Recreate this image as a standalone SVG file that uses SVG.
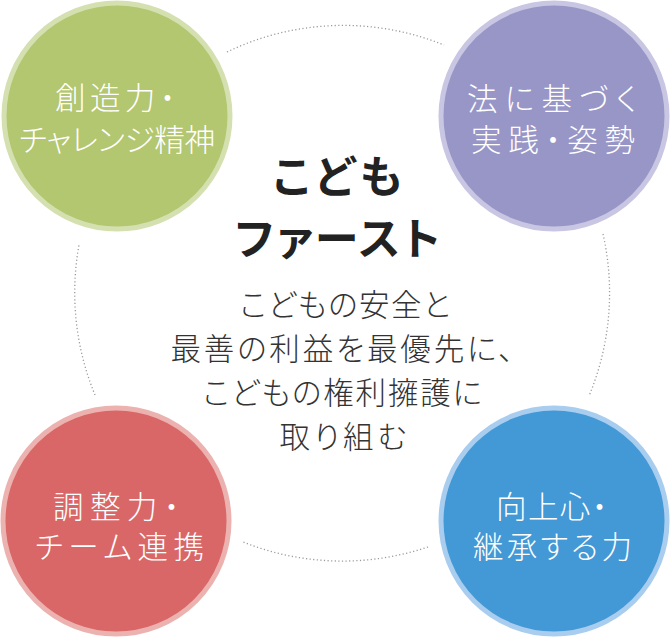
<svg xmlns="http://www.w3.org/2000/svg" width="671" height="640" viewBox="0 0 671 640">
<style>
.jp{font-family:"Noto Sans CJK JP","Noto Sans CJK SC",sans-serif;font-feature-settings:"palt" 1;}
.lbl{font-size:30.5px;font-weight:300;fill:#ffffff;text-anchor:middle;}
.ttl{font-size:44px;font-weight:700;fill:#222222;text-anchor:middle;}
.body{font-size:30.5px;font-weight:300;fill:#333333;text-anchor:middle;}
.dot{fill:none;stroke:#9a9a9a;stroke-width:1.3;stroke-dasharray:1.2 2.4;}
</style>
<rect width="671" height="640" fill="#ffffff"/>
<g id="connectors">
<path class="dot" d="M227,52 A268,268 0 0 1 444,45"/>
<path class="dot" d="M603,234 A268,268 0 0 1 589,396"/>
<path class="dot" d="M428,547 A268,268 0 0 1 243,542"/>
<path class="dot" d="M95,395 A268,268 0 0 1 79,245"/>
</g>
<g id="center">
<text class="jp ttl" x="337.5" y="193" textLength="129" lengthAdjust="spacing">こども</text>
<text class="jp ttl" x="337.5" y="255" textLength="205" lengthAdjust="spacing">ファースト</text>
<text class="jp body" x="345" y="316" textLength="210" lengthAdjust="spacing">こどもの安全と</text>
<text class="jp body" x="342" y="360" textLength="343" lengthAdjust="spacing">最善の利益を最優先に、</text>
<text class="jp body" x="342.5" y="404" textLength="279" lengthAdjust="spacing">こどもの権利擁護に</text>
<text class="jp body" x="343" y="448" textLength="127" lengthAdjust="spacing">取り組む</text>
</g>
<g id="node-creativity">
<circle cx="117" cy="116" r="113" fill="#b3c670" stroke="#d5e0b0" stroke-width="5"/>
<text class="jp lbl" x="115" y="109" textLength="120" lengthAdjust="spacing">創造力・</text>
<text class="jp lbl" x="117" y="151" textLength="196" lengthAdjust="spacing">チャレンジ精神</text>
</g>
<g id="node-law">
<circle cx="554" cy="116" r="113" fill="#9896c6" stroke="#c8c6e3" stroke-width="5"/>
<text class="jp lbl" x="552" y="110" textLength="170" lengthAdjust="spacing">法に基づく</text>
<text class="jp lbl" x="553" y="151" textLength="164" lengthAdjust="spacing">実践・姿勢</text>
</g>
<g id="node-coordination">
<circle cx="116" cy="521" r="113" fill="#d96767" stroke="#ecb2af" stroke-width="5"/>
<text class="jp lbl" x="116" y="518" textLength="126" lengthAdjust="spacing">調整力・</text>
<text class="jp lbl" x="119.5" y="558" textLength="169" lengthAdjust="spacing">チーム連携</text>
</g>
<g id="node-aspiration">
<circle cx="554" cy="521" r="113" fill="#4398d6" stroke="#a9cdee" stroke-width="5"/>
<text class="jp lbl" x="551.5" y="518" textLength="111" lengthAdjust="spacing">向上心・</text>
<text class="jp lbl" x="552.5" y="558" textLength="159" lengthAdjust="spacing">継承する力</text>
</g>
</svg>
